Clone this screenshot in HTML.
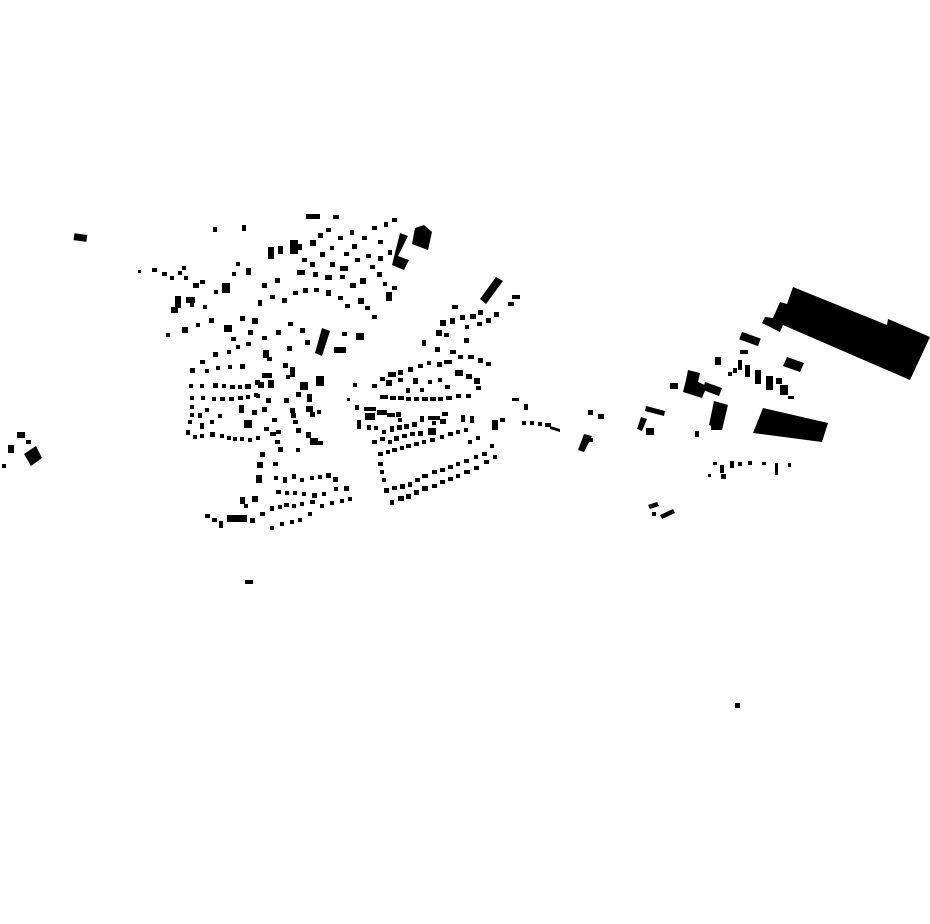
<!DOCTYPE html>
<html><head><meta charset="utf-8"><style>html,body{margin:0;padding:0;background:#fff}svg{display:block}</style></head>
<body>
<svg width="930" height="924" viewBox="0 0 930 924" xmlns="http://www.w3.org/2000/svg">
<g fill="#000">
<!-- far left -->
<rect x="74" y="234" width="13" height="7" transform="rotate(8 80 237)"/>
<polygon points="24,454 36,446 42,458 31,466"/>
<rect x="17" y="432" width="8" height="6"/>
<rect x="8" y="445" width="6" height="8"/>
<rect x="2" y="464" width="4" height="4"/>
<rect x="26" y="440" width="5" height="4"/>
<!-- left cluster top -->
<rect x="306" y="214" width="14" height="5"/><rect x="333" y="215" width="6" height="4"/>
<rect x="213" y="227" width="4" height="5"/><rect x="242" y="225" width="4" height="6"/>
<polygon points="400,233 408,236 398,256 409,260 404,270 392,265"/>
<polygon points="415,228 424,225 432,232 428,250 412,244"/>
<rect x="268" y="247" width="6" height="12"/><rect x="278" y="246" width="5" height="8"/>
<rect x="290" y="240" width="8" height="14"/><rect x="297" y="244" width="5" height="6"/>
<rect x="310" y="240" width="6" height="6"/><rect x="318" y="233" width="5" height="5"/>
<rect x="326" y="228" width="5" height="4"/><rect x="338" y="236" width="5" height="4"/>
<rect x="350" y="230" width="4" height="5"/><rect x="362" y="236" width="5" height="4"/>
<rect x="372" y="226" width="5" height="4"/><rect x="384" y="222" width="4" height="5"/>
<rect x="392" y="218" width="5" height="4"/><rect x="378" y="240" width="5" height="4"/>
<rect x="352" y="244" width="5" height="5"/><rect x="344" y="252" width="5" height="4"/>
<rect x="330" y="246" width="4" height="4"/><rect x="320" y="252" width="5" height="5"/>
<rect x="302" y="258" width="5" height="4"/><rect x="310" y="262" width="5" height="5"/>
<rect x="330" y="262" width="5" height="5"/><rect x="340" y="266" width="8" height="5"/>
<rect x="355" y="258" width="5" height="4"/><rect x="366" y="254" width="5" height="4"/>
<rect x="378" y="256" width="5" height="5"/><rect x="370" y="265" width="5" height="4"/>
<rect x="388" y="250" width="4" height="5"/><rect x="377" y="272" width="5" height="5"/>
<rect x="360" y="278" width="6" height="6"/><rect x="350" y="283" width="6" height="5"/>
<rect x="340" y="275" width="5" height="4"/><rect x="325" y="275" width="7" height="5"/>
<rect x="313" y="272" width="5" height="5"/><rect x="297" y="270" width="8" height="5"/>
<rect x="275" y="278" width="5" height="5"/><rect x="262" y="283" width="5" height="5"/>
<rect x="246" y="268" width="5" height="7"/><rect x="232" y="272" width="4" height="4"/>
<rect x="236" y="262" width="4" height="4"/><rect x="222" y="283" width="8" height="10"/>
<rect x="214" y="290" width="4" height="4"/><rect x="200" y="280" width="5" height="4"/>
<rect x="152" y="268" width="5" height="4"/><rect x="162" y="272" width="5" height="4"/>
<rect x="170" y="276" width="4" height="4"/><rect x="178" y="271" width="4" height="4"/>
<rect x="182" y="266" width="4" height="4"/><rect x="184" y="276" width="4" height="4"/>
<rect x="193" y="283" width="6" height="5"/><rect x="138" y="270" width="3" height="3"/>
<rect x="175" y="296" width="6" height="12"/><rect x="171" y="307" width="7" height="6"/>
<rect x="186" y="297" width="9" height="6"/><rect x="190" y="303" width="4" height="4"/>
<rect x="203" y="305" width="4" height="4"/><rect x="166" y="333" width="4" height="4"/>
<rect x="182" y="327" width="6" height="6"/><rect x="196" y="323" width="4" height="4"/>
<rect x="209" y="318" width="5" height="5"/><rect x="224" y="325" width="8" height="7"/>
<rect x="240" y="316" width="5" height="5"/><rect x="252" y="318" width="6" height="6"/>
<rect x="258" y="300" width="4" height="6"/><rect x="270" y="295" width="5" height="4"/>
<rect x="282" y="298" width="5" height="5"/><rect x="293" y="291" width="5" height="4"/>
<rect x="303" y="288" width="5" height="5"/><rect x="314" y="288" width="5" height="4"/>
<rect x="326" y="290" width="5" height="6"/><rect x="338" y="296" width="5" height="4"/>
<rect x="345" y="304" width="5" height="4"/><rect x="358" y="298" width="6" height="6"/>
<rect x="365" y="306" width="5" height="4"/><rect x="372" y="315" width="5" height="4"/>
<rect x="386" y="292" width="6" height="9"/><rect x="392" y="286" width="5" height="4"/>
<rect x="383" y="282" width="4" height="4"/><rect x="356" y="333" width="8" height="7"/>
<rect x="342" y="332" width="5" height="4"/><rect x="334" y="347" width="12" height="6"/>
<polygon points="322,328 330,331 322,356 315,353"/>
<rect x="319" y="340" width="5" height="4"/><rect x="305" y="340" width="5" height="5"/>
<rect x="300" y="328" width="5" height="5"/><rect x="288" y="322" width="5" height="4"/>
<rect x="276" y="330" width="5" height="5"/><rect x="262" y="336" width="5" height="4"/>
<rect x="248" y="330" width="5" height="5"/><rect x="231" y="337" width="5" height="4"/>
<rect x="213" y="352" width="5" height="5"/><rect x="200" y="360" width="5" height="4"/>
<rect x="190" y="368" width="5" height="5"/><rect x="205" y="369" width="4" height="4"/>
<rect x="216" y="366" width="4" height="4"/><rect x="228" y="365" width="4" height="4"/>
<rect x="240" y="364" width="5" height="5"/><rect x="227" y="350" width="4" height="4"/>
<rect x="236" y="345" width="4" height="4"/><rect x="246" y="342" width="5" height="4"/>
<rect x="263" y="350" width="6" height="8"/><rect x="267" y="357" width="5" height="4"/>
<rect x="287" y="346" width="5" height="5"/><rect x="283" y="363" width="5" height="5"/>
<rect x="262" y="373" width="10" height="5"/><rect x="268" y="380" width="6" height="8"/>
<rect x="290" y="367" width="5" height="10"/><rect x="286" y="375" width="4" height="4"/>
<rect x="300" y="382" width="8" height="8"/><rect x="316" y="376" width="8" height="10"/>
<rect x="307" y="394" width="5" height="8"/><rect x="296" y="392" width="5" height="5"/>
<rect x="306" y="406" width="7" height="6"/><rect x="310" y="412" width="5" height="5"/>
<rect x="317" y="410" width="4" height="4"/>
<!-- grid rows -->
<rect x="189" y="384" width="4" height="4"/><rect x="200" y="384" width="4" height="4"/>
<rect x="213" y="383" width="5" height="5"/><rect x="222" y="384" width="4" height="4"/>
<rect x="230" y="385" width="5" height="4"/><rect x="238" y="385" width="4" height="4"/>
<rect x="245" y="384" width="6" height="5"/><rect x="255" y="380" width="5" height="5"/>
<rect x="190" y="396" width="4" height="4"/><rect x="201" y="396" width="4" height="4"/>
<rect x="212" y="397" width="4" height="4"/><rect x="220" y="397" width="5" height="4"/>
<rect x="229" y="397" width="5" height="4"/><rect x="238" y="396" width="5" height="4"/>
<rect x="246" y="395" width="4" height="4"/><rect x="256" y="394" width="4" height="4"/>
<rect x="190" y="405" width="4" height="4"/><rect x="205" y="408" width="4" height="4"/>
<rect x="190" y="413" width="4" height="4"/><rect x="198" y="413" width="4" height="5"/>
<rect x="218" y="414" width="4" height="4"/><rect x="239" y="405" width="5" height="8"/>
<rect x="244" y="420" width="8" height="8"/><rect x="252" y="410" width="5" height="5"/>
<rect x="262" y="407" width="5" height="5"/><rect x="254" y="393" width="4" height="4"/>
<rect x="266" y="398" width="5" height="5"/><rect x="258" y="382" width="6" height="6"/>
<rect x="284" y="398" width="5" height="5"/><rect x="290" y="408" width="5" height="5"/>
<rect x="293" y="420" width="5" height="4"/><rect x="291" y="413" width="5" height="5"/>
<rect x="188" y="420" width="4" height="4"/><rect x="200" y="423" width="4" height="6"/>
<rect x="210" y="420" width="4" height="4"/><rect x="186" y="430" width="4" height="5"/>
<rect x="193" y="435" width="4" height="4"/><rect x="200" y="434" width="4" height="4"/>
<rect x="210" y="432" width="5" height="5"/><rect x="220" y="434" width="4" height="4"/>
<rect x="227" y="436" width="4" height="4"/><rect x="233" y="437" width="4" height="4"/>
<rect x="240" y="437" width="4" height="4"/><rect x="248" y="438" width="4" height="4"/>
<rect x="256" y="436" width="4" height="4"/><rect x="264" y="427" width="5" height="4"/>
<rect x="270" y="432" width="6" height="4"/><rect x="276" y="430" width="5" height="4"/>
<rect x="272" y="418" width="5" height="4"/><rect x="296" y="428" width="5" height="5"/>
<rect x="306" y="432" width="5" height="6"/><rect x="310" y="438" width="8" height="7"/>
<rect x="318" y="441" width="5" height="4"/><rect x="275" y="440" width="5" height="4"/>
<rect x="278" y="447" width="5" height="5"/><rect x="296" y="448" width="4" height="4"/>
<rect x="260" y="452" width="5" height="5"/><rect x="257" y="462" width="6" height="6"/>
<rect x="273" y="462" width="5" height="4"/><rect x="256" y="475" width="6" height="8"/>
<rect x="274" y="476" width="4" height="4"/><rect x="283" y="477" width="4" height="6"/>
<rect x="292" y="474" width="4" height="5"/><rect x="300" y="478" width="4" height="4"/>
<rect x="310" y="476" width="4" height="4"/><rect x="318" y="475" width="4" height="4"/>
<rect x="326" y="473" width="5" height="5"/><rect x="333" y="477" width="5" height="5"/>
<rect x="344" y="486" width="5" height="5"/><rect x="276" y="490" width="5" height="4"/>
<rect x="285" y="491" width="4" height="4"/><rect x="293" y="491" width="4" height="4"/>
<rect x="302" y="492" width="4" height="4"/><rect x="312" y="493" width="5" height="5"/>
<rect x="322" y="492" width="4" height="4"/><rect x="334" y="487" width="4" height="4"/>
<rect x="252" y="496" width="6" height="6"/><rect x="240" y="497" width="5" height="7"/>
<rect x="244" y="504" width="4" height="4"/><rect x="270" y="506" width="4" height="5"/>
<rect x="278" y="505" width="4" height="4"/><rect x="284" y="503" width="5" height="4"/>
<rect x="292" y="504" width="4" height="4"/><rect x="300" y="502" width="4" height="4"/>
<rect x="310" y="500" width="5" height="4"/><rect x="320" y="504" width="4" height="4"/>
<rect x="330" y="501" width="4" height="4"/><rect x="340" y="499" width="4" height="4"/>
<rect x="348" y="497" width="4" height="4"/>
<rect x="227" y="515" width="20" height="7"/><rect x="205" y="514" width="5" height="4"/>
<rect x="212" y="518" width="5" height="4"/><rect x="219" y="521" width="4" height="7"/>
<rect x="250" y="518" width="5" height="5"/><rect x="270" y="526" width="4" height="4"/>
<rect x="280" y="522" width="4" height="4"/><rect x="290" y="520" width="4" height="4"/>
<rect x="298" y="518" width="4" height="4"/><rect x="308" y="512" width="4" height="4"/>
<rect x="260" y="512" width="5" height="4"/><rect x="245" y="580" width="8" height="4"/>
<!-- middle cluster -->
<polygon points="496,277 503,281 486,304 480,299"/>
<rect x="512" y="295" width="8" height="4"/><rect x="508" y="302" width="6" height="4"/>
<rect x="452" y="305" width="6" height="4"/><rect x="440" y="320" width="6" height="6"/>
<rect x="450" y="318" width="5" height="6"/><rect x="460" y="315" width="5" height="5"/>
<rect x="470" y="314" width="6" height="5"/><rect x="478" y="310" width="5" height="5"/>
<rect x="486" y="318" width="5" height="5"/><rect x="494" y="312" width="5" height="5"/>
<rect x="477" y="322" width="5" height="4"/><rect x="465" y="325" width="4" height="4"/>
<rect x="436" y="330" width="6" height="6"/><rect x="444" y="333" width="5" height="4"/>
<rect x="464" y="338" width="5" height="5"/><rect x="422" y="340" width="4" height="6"/>
<rect x="435" y="347" width="5" height="5"/><rect x="450" y="350" width="6" height="4"/>
<rect x="458" y="355" width="5" height="4"/><rect x="468" y="355" width="6" height="4"/>
<rect x="478" y="358" width="5" height="5"/><rect x="486" y="362" width="5" height="4"/>
<rect x="437" y="362" width="5" height="5"/><rect x="444" y="360" width="8" height="4"/>
<rect x="455" y="370" width="8" height="6"/><rect x="466" y="374" width="6" height="5"/>
<rect x="474" y="378" width="6" height="6"/><rect x="476" y="386" width="5" height="4"/>
<rect x="427" y="361" width="4" height="4"/><rect x="418" y="364" width="5" height="4"/>
<rect x="408" y="367" width="5" height="5"/><rect x="398" y="370" width="5" height="5"/>
<rect x="388" y="372" width="8" height="5"/><rect x="380" y="377" width="5" height="4"/>
<rect x="372" y="384" width="5" height="4"/><rect x="386" y="380" width="6" height="6"/>
<rect x="398" y="378" width="5" height="4"/><rect x="413" y="378" width="5" height="6"/>
<rect x="428" y="380" width="4" height="4"/><rect x="438" y="378" width="4" height="4"/>
<rect x="445" y="385" width="5" height="4"/><rect x="420" y="388" width="4" height="4"/>
<rect x="406" y="388" width="4" height="5"/><rect x="380" y="395" width="8" height="4"/>
<rect x="390" y="396" width="6" height="4"/><rect x="398" y="396" width="6" height="4"/>
<rect x="406" y="397" width="5" height="4"/><rect x="414" y="397" width="5" height="4"/>
<rect x="422" y="397" width="6" height="4"/><rect x="430" y="397" width="6" height="4"/>
<rect x="438" y="397" width="5" height="4"/><rect x="446" y="396" width="6" height="4"/>
<rect x="456" y="394" width="5" height="4"/><rect x="466" y="394" width="5" height="4"/>
<rect x="353" y="383" width="4" height="4"/><rect x="347" y="398" width="3" height="3"/>
<rect x="355" y="405" width="4" height="5"/><rect x="364" y="407" width="12" height="4"/>
<rect x="365" y="413" width="10" height="7"/><rect x="377" y="410" width="10" height="5"/>
<rect x="387" y="413" width="8" height="4"/><rect x="396" y="412" width="5" height="5"/>
<rect x="398" y="418" width="4" height="4"/><rect x="357" y="420" width="4" height="9"/>
<rect x="367" y="425" width="4" height="5"/><rect x="374" y="426" width="4" height="4"/>
<rect x="382" y="430" width="4" height="4"/><rect x="390" y="426" width="4" height="6"/>
<rect x="397" y="425" width="5" height="5"/><rect x="404" y="424" width="5" height="5"/>
<rect x="412" y="422" width="5" height="5"/><rect x="420" y="416" width="4" height="6"/>
<rect x="432" y="421" width="4" height="4"/><rect x="440" y="419" width="6" height="5"/>
<rect x="428" y="416" width="12" height="4"/><rect x="442" y="412" width="6" height="4"/>
<rect x="461" y="415" width="4" height="7"/><rect x="470" y="416" width="4" height="7"/>
<rect x="492" y="420" width="6" height="10"/><rect x="500" y="418" width="5" height="4"/>
<rect x="512" y="398" width="7" height="3"/><rect x="524" y="404" width="4" height="6"/>
<rect x="522" y="421" width="4" height="4"/><rect x="530" y="421" width="4" height="4"/>
<rect x="538" y="422" width="4" height="4"/><rect x="545" y="423" width="6" height="4"/>
<polygon points="550,426 560,429 560,432 550,429"/>
<rect x="372" y="440" width="5" height="4"/><rect x="380" y="437" width="5" height="4"/>
<rect x="388" y="440" width="4" height="4"/><rect x="394" y="436" width="5" height="5"/>
<rect x="402" y="434" width="5" height="4"/><rect x="410" y="432" width="5" height="4"/>
<rect x="418" y="431" width="5" height="5"/><rect x="428" y="428" width="8" height="7"/>
<rect x="378" y="452" width="5" height="4"/><rect x="386" y="450" width="4" height="4"/>
<rect x="392" y="448" width="5" height="4"/><rect x="400" y="446" width="4" height="4"/>
<rect x="406" y="444" width="5" height="4"/><rect x="414" y="442" width="5" height="4"/>
<rect x="422" y="440" width="4" height="4"/><rect x="430" y="438" width="5" height="4"/>
<rect x="440" y="435" width="4" height="4"/><rect x="448" y="432" width="5" height="4"/>
<rect x="456" y="430" width="4" height="4"/><rect x="464" y="428" width="4" height="4"/>
<rect x="476" y="436" width="4" height="4"/><rect x="468" y="440" width="4" height="4"/>
<rect x="490" y="444" width="4" height="4"/>
<rect x="378" y="462" width="5" height="4"/><rect x="380" y="470" width="4" height="4"/>
<rect x="382" y="478" width="4" height="4"/><rect x="384" y="488" width="5" height="5"/>
<rect x="392" y="486" width="5" height="4"/><rect x="400" y="484" width="5" height="5"/>
<rect x="408" y="482" width="4" height="5"/><rect x="415" y="478" width="5" height="4"/>
<rect x="422" y="474" width="6" height="4"/><rect x="432" y="470" width="5" height="4"/>
<rect x="440" y="468" width="5" height="4"/><rect x="448" y="465" width="5" height="4"/>
<rect x="456" y="462" width="4" height="4"/><rect x="464" y="459" width="5" height="4"/>
<rect x="474" y="455" width="4" height="4"/><rect x="482" y="452" width="5" height="4"/>
<rect x="390" y="500" width="4" height="5"/><rect x="398" y="496" width="6" height="5"/>
<rect x="406" y="494" width="5" height="5"/><rect x="414" y="490" width="5" height="5"/>
<rect x="422" y="486" width="6" height="5"/><rect x="432" y="484" width="5" height="4"/>
<rect x="440" y="480" width="5" height="4"/><rect x="448" y="477" width="5" height="4"/>
<rect x="456" y="474" width="4" height="4"/><rect x="464" y="470" width="6" height="4"/>
<rect x="474" y="466" width="5" height="4"/><rect x="484" y="460" width="5" height="4"/>
<rect x="493" y="455" width="4" height="4"/>
<!-- between -->
<rect x="588" y="410" width="5" height="5"/><rect x="598" y="414" width="6" height="5"/>
<polygon points="584,434 592,436 584,452 578,450"/><rect x="583" y="438" width="10" height="4"/>
<!-- right -->
<polygon points="793,287 887,325 888,319 930,337 910,380 783,325 780,332 762,323 765,317 773,318 780,302 787,304"/>
<polygon points="763,408 828,423 822,442 753,433"/>
<polygon points="787,357 804,363 800,372 783,366"/>
<polygon points="688,370 700,373 698,382 707,386 702,398 683,392 686,380"/>
<polygon points="705,382 722,388 719,396 703,390"/>
<polygon points="714,401 728,405 722,430 709,425"/>
<rect x="711" y="425" width="10" height="5"/>
<polygon points="646,406 665,411 664,416 645,411"/>
<polygon points="641,417 647,419 642,431 637,429"/>
<rect x="646" y="428" width="8" height="7"/>
<rect x="670" y="383" width="8" height="6"/>
<rect x="715" y="357" width="6" height="8"/>
<rect x="740" y="335" width="20" height="8" transform="rotate(20 750 339)"/>
<rect x="740" y="350" width="8" height="4"/>
<rect x="738" y="360" width="4" height="10"/><rect x="745" y="365" width="5" height="12"/>
<rect x="755" y="370" width="6" height="14"/><rect x="766" y="376" width="7" height="14"/>
<rect x="776" y="378" width="6" height="6"/><rect x="780" y="385" width="8" height="10"/>
<rect x="733" y="368" width="4" height="5"/><rect x="728" y="372" width="4" height="4"/>
<rect x="695" y="431" width="4" height="6"/><rect x="788" y="396" width="6" height="3"/>
<rect x="713" y="462" width="4" height="3"/><rect x="720" y="465" width="4" height="8"/>
<rect x="730" y="461" width="4" height="7"/><rect x="738" y="462" width="4" height="4"/>
<rect x="748" y="461" width="4" height="4"/><rect x="762" y="462" width="4" height="3"/>
<rect x="775" y="463" width="3" height="12"/><rect x="788" y="463" width="3" height="4"/>
<rect x="708" y="474" width="3" height="3"/><rect x="721" y="474" width="5" height="5"/>
<polygon points="648,505 657,502 659,506 650,509"/><rect x="652" y="512" width="4" height="4"/>
<polygon points="660,515 673,509 675,513 662,519"/>
<rect x="735" y="703" width="5" height="5"/>
</g>
</svg>
</body></html>
